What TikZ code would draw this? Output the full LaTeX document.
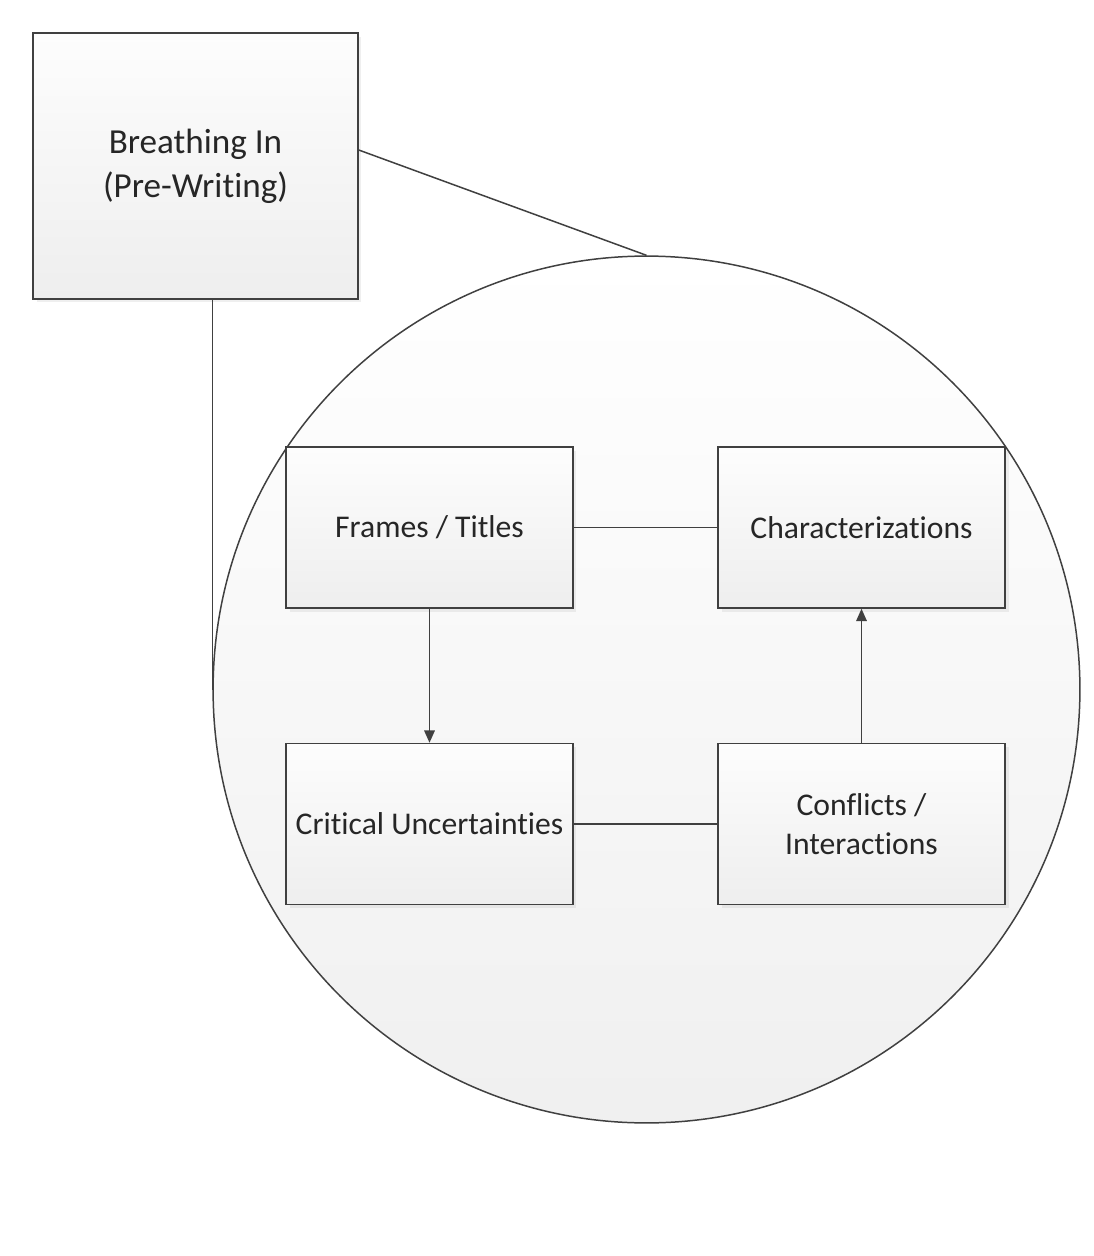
\documentclass[tikz,border=0pt]{standalone}
\usepackage{fontspec}
\setmainfont{Carlito}[Ligatures=NoCommon]
\usetikzlibrary{shapes.geometric, arrows, arrows.meta, positioning, shadows, calc}
\usepackage{xcolor}
\definecolor{boxline}{RGB}{64, 64, 64}
\definecolor{boxtop}{RGB}{253, 253, 253}
\definecolor{boxbottom}{RGB}{238, 238, 238}
\tikzstyle{stage} = [rectangle, draw=boxline, line width=0.85pt, top color=boxtop, bottom color=boxbottom, text centered, font=\fontsize{18}{22}\selectfont, text=black!85, drop shadow={opacity=0.12, shadow xshift=2pt, shadow yshift=-2pt}]
\tikzstyle{cycle} = [circle, draw=boxline, line width=0.85pt, top color=white, bottom color=boxbottom!90!white]
\tikzstyle{link} = [line width=0.85pt, boxline]
\tikzstyle{arrow} = [line width=0.85pt, -{Triangle[length=7pt,width=6pt]}, boxline]

\begin{document}
\begin{tikzpicture}[x=0.02cm, y=-0.02cm]
\useasboundingbox (0,0) rectangle (1093,1256);
\fill[white] (0,0) rectangle (1093,1256);

\node[stage, minimum width=6.5cm, minimum height=5.32cm, align=center, font=\fontsize{20}{25}\selectfont] (breathing) at (195.5,166) {Breathing In\\(Pre-Writing)};
\node[cycle, minimum size=17.34cm] (writing) at (646.5,689.5) {};

\node[stage, minimum width=5.74cm, minimum height=3.22cm] (frames) at (429.5,527.5) {Frames / Titles};
\node[stage, minimum width=5.74cm, minimum height=3.22cm] (characters) at (861.5,527.5) {Characterizations};
\node[stage, minimum width=5.74cm, minimum height=3.22cm] (uncertain) at (429.5,824) {Critical Uncertainties};
\node[stage, minimum width=5.74cm, minimum height=3.22cm, align=center] (conflicts) at (861.5,824) {Conflicts /\\Interactions};

\draw[link] (breathing.east |- 0,150) -- (writing.north);
\draw[link] (writing.west |- breathing.south) -- (writing.west);
\draw[link] (frames) -- (characters);
\draw[link] (uncertain) -- (conflicts);
\draw[arrow] (frames) -- (uncertain);
\draw[arrow] (conflicts) -- (characters);
\end{tikzpicture}
\end{document}
